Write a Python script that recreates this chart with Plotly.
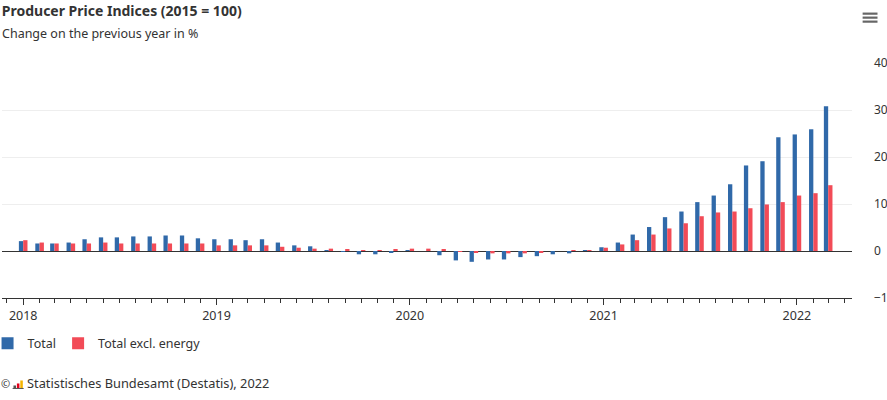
import pandas as pd
import plotly.graph_objects as go

# monthly data, Jan 2018 - Mar 2022 (change on previous year, %)
months = pd.date_range("2018-01-01", "2022-03-01", freq="MS")

total = [
    2.1, 1.6, 1.6, 1.8, 2.5, 2.9, 2.9, 3.1, 3.1, 3.3, 3.3, 2.7,
    2.5, 2.5, 2.3, 2.5, 1.8, 1.2, 1.0, 0.1, -0.1, -0.7, -0.7, -0.3,
    0.1, 0.0, -0.9, -2.0, -2.3, -1.8, -1.8, -1.3, -1.1, -0.7, -0.5, 0.1,
    0.8, 1.8, 3.5, 5.1, 7.2, 8.4, 10.4, 11.8, 14.2, 18.2, 19.1, 24.2,
    24.8, 25.9, 30.8,
]
excl_energy = [
    2.3, 1.8, 1.6, 1.6, 1.6, 1.8, 1.6, 1.6, 1.6, 1.6, 1.6, 1.6,
    1.2, 1.2, 1.2, 1.2, 0.9, 0.7, 0.5, 0.5, 0.3, 0.1, 0.1, 0.3,
    0.5, 0.5, 0.3, -0.1, -0.3, -0.5, -0.5, -0.5, -0.3, 0.0, 0.1, 0.2,
    0.7, 1.4, 2.3, 3.5, 4.8, 5.9, 7.4, 8.2, 8.4, 9.1, 9.9, 10.4,
    11.8, 12.3, 14.0,
]

BLUE = "#3069a9"
RED = "#f24b57"
TXT = "#333333"
FONT = "Noto Sans"

fig = go.Figure()
fig.add_trace(go.Bar(x=months, y=total, name="Total", marker_color=BLUE,
                     marker_line_width=0, legend="legend"))
fig.add_trace(go.Bar(x=months, y=excl_energy, name="Total excl. energy",
                     marker_color=RED, marker_line_width=0, legend="legend2"))

leg = dict(orientation="h", y=-0.13, xanchor="left", yanchor="top",
           font=dict(size=12.5, color=TXT), itemwidth=30, bgcolor="rgba(0,0,0,0)")

# plot area: x 2..852 px, y 63..298 px
fig.update_layout(
    width=887, height=400,
    margin=dict(l=2, r=35, t=63, b=102, autoexpand=False),
    paper_bgcolor="white", plot_bgcolor="white",
    font=dict(family=FONT, size=12, color=TXT),
    barmode="group", bargap=0.42, bargroupgap=0.0,
    showlegend=True,
    legend=dict(leg, x=-0.017),
    legend2=dict(leg, x=0.066),
    title=dict(text="<b>Producer Price Indices (2015 = 100)</b>", x=0.002, xanchor="left",
               y=0.985, yanchor="top", font=dict(size=14, color=TXT)),
)

fig.update_xaxes(
    type="date", automargin=False,
    range=["2017-11-22", "2022-04-15"],
    tick0="2018-01-01", dtick="M12", tickformat="%Y",
    ticks="outside", ticklen=6, tickcolor=TXT, tickwidth=1,
    minor=dict(dtick="M1", ticks="outside", ticklen=4, tickcolor=TXT, showgrid=False),
    showline=True, linecolor=TXT, linewidth=1,
    showgrid=False, zeroline=False,
    tickfont=dict(size=12.5, color=TXT),
)

fig.update_yaxes(
    side="right", range=[-10, 40], dtick=10, tick0=0, automargin=False,
    showgrid=True, gridcolor="#eeeeee", gridwidth=1,
    zeroline=True, zerolinecolor=TXT, zerolinewidth=1,
    showline=False, ticks="", ticklabelstandoff=21,
    tickfont=dict(size=12, color=TXT),
)

fig.add_annotation(text="Change on the previous year in %", xref="paper", yref="paper",
                   x=-0.002, y=1.0, xanchor="left", yanchor="bottom", yshift=19,
                   showarrow=False, font=dict(size=12.5, color=TXT))

# credit line with small bar icon
fig.add_annotation(text="©", xref="paper", yref="paper", x=-0.003, y=0, xanchor="left",
                   yanchor="middle", yshift=-85, showarrow=False, font=dict(size=11, color=TXT))
icon_bars = [(0.0135, 0.0165, 3, "#555555"), (0.0175, 0.0205, 5, "#e2001a"),
             (0.0215, 0.0245, 8, "#f5b400")]
for x0, x1, h, c in icon_bars:
    fig.add_shape(type="rect", xref="paper", yref="paper", x0=x0, x1=x1,
                  y0=-0.385, y1=-0.385 + h / 235, fillcolor=c, line_width=0)
fig.add_shape(type="line", xref="paper", yref="paper", x0=0.0125, x1=0.0255,
              y0=-0.385, y1=-0.385, line=dict(color="#555555", width=1))
fig.add_annotation(text="Statistisches Bundesamt (Destatis), 2022", xref="paper", yref="paper",
                   x=0.027, y=0, xanchor="left", yanchor="middle", yshift=-85,
                   showarrow=False, font=dict(size=12.8, color=TXT))

# menu icon (three bars) at top right
for yy in [1.21, 1.193, 1.176]:
    fig.add_shape(type="line", xref="paper", yref="paper", x0=1.0125, x1=1.03,
                  y0=yy, y1=yy, line=dict(color="#666666", width=2.2))

# page body has an 8px default margin; remove it so the chart sits at the window corner
fig.write_html("out.html", config={"displayModeBar": False},
               post_script="document.body.style.margin='0px';")
